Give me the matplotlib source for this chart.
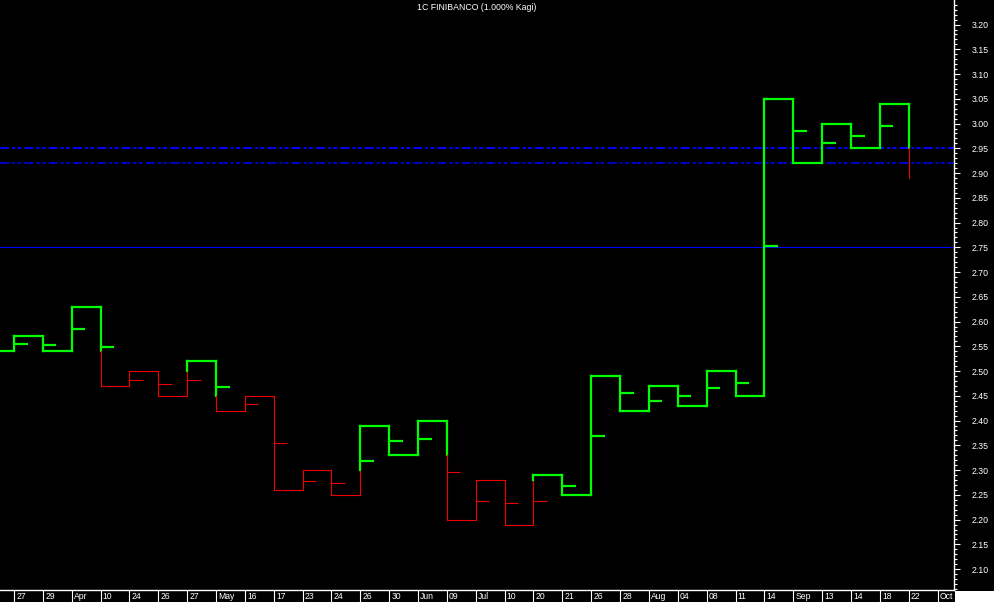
import matplotlib
matplotlib.use("Agg")
import matplotlib.pyplot as plt
from matplotlib.patches import Rectangle
from matplotlib.ticker import MultipleLocator, FormatStrFormatter
import matplotlib.transforms as mtransforms

plt.rcParams['font.family'] = ['Liberation Sans', 'DejaVu Sans']
plt.rcParams['lines.scale_dashes'] = False

title = "1C FINIBANCO (1.000% Kagi)"
x_labels = ["27", "29", "Apr", "10", "24", "26", "27", "May", "16", "17", "23", "24",
            "26", "30", "Jun", "09", "Jul", "10", "20", "21", "26", "28", "Aug", "04",
            "08", "11", "14", "Sep", "13", "14", "18", "22", "Oct"]
start_level = 2.54
levels = [2.57, 2.54, 2.63, 2.47, 2.50, 2.45, 2.52, 2.42, 2.45, 2.26, 2.30, 2.25,
          2.39, 2.33, 2.40, 2.20, 2.28, 2.19, 2.29, 2.25, 2.49, 2.42, 2.47, 2.43,
          2.50, 2.45, 3.05, 2.92, 3.00, 2.95, 3.04, 2.89]
marks = [2.555, 2.553, 2.585, 2.549, 2.483, 2.473, 2.483, 2.468, 2.433, 2.355, 2.278, 2.273,
         2.318, 2.359, 2.363, 2.297, 2.237, 2.233, 2.237, 2.268, 2.369, 2.456, 2.440, 2.450,
         2.465, 2.475, 2.752, 2.985, 2.960, 2.975, 2.996, None]
ref_solid = 2.75
ref_dashed = [2.95, 2.92]

W, H = 994, 602
fig = plt.figure(figsize=(W / 100, H / 100), dpi=100, facecolor='black')
ax_left, ax_right, ax_bottom = 0, 954, 590
ax = fig.add_axes([ax_left / W, (H - ax_bottom) / H, (ax_right - ax_left) / W, ax_bottom / H])
ax.set_facecolor('black')

step = 28.86
ax.set_xlim(-14 / step, (ax_right - 14) / step)
ax.set_ylim(2.0578, 3.2496)

GREEN = '#00ff00'
RED = '#ee0000'
THICK = 1.6
THIN = 0.8


def seg(x0, x1, y0, y1, thick):
    ax.plot([x0, x1], [y0, y1], color=GREEN if thick else RED,
            lw=THICK if thick else THIN, solid_capstyle='projecting', zorder=3)


# initial horizontal
seg(-1, 0, start_level, start_level, True)

state_thick = True
prev_peak = None
prev_trough = None
cur = start_level
for i, lv in enumerate(levels):
    switch = None
    if lv > cur:
        if (not state_thick) and prev_peak is not None and lv > prev_peak:
            switch = prev_peak
        prev_trough = cur if prev_trough is None else prev_trough
        if switch is not None:
            seg(i, i, cur, switch, False)
            seg(i, i, switch, lv, True)
            state_thick = True
        else:
            seg(i, i, cur, lv, state_thick)
        prev_trough = cur
        prev_peak_new = lv
        prev_peak = prev_peak_new
    else:
        if state_thick and prev_trough is not None and lv < prev_trough:
            switch = prev_trough
        if switch is not None:
            seg(i, i, cur, switch, True)
            seg(i, i, switch, lv, False)
            state_thick = False
        else:
            seg(i, i, cur, lv, state_thick)
        prev_peak = cur if prev_peak is None else prev_peak
        prev_peak = cur
        prev_trough = lv
    m = marks[i]
    if m is not None:
        if switch is not None:
            mthick = m > switch
        else:
            mthick = state_thick
        ax.plot([i, i + 0.47], [m, m], color=GREEN if mthick else RED,
                lw=THICK if mthick else THIN, solid_capstyle='butt', zorder=4)
    if i < len(levels) - 1:
        seg(i, i + 1, lv, lv, state_thick)
    cur = lv

# reference lines
ax.axhline(ref_solid, color='#0000ff', lw=0.8, zorder=2)
ax.axhline(ref_dashed[0], color='#0000ff', lw=1.4, zorder=2,
           linestyle=(0, (6.5, 2.2, 2.2, 1.5, 2.9, 2.2)))
ax.axhline(ref_dashed[1], color='#0000ff', lw=1.1, zorder=2,
           linestyle=(0, (6.5, 2.2, 2.2, 1.5, 2.9, 2.2)))

# spines
for s in ['top', 'left']:
    ax.spines[s].set_visible(False)
ax.spines['right'].set_color('white')
ax.spines['bottom'].set_color('white')
ax.spines['right'].set_linewidth(1)
ax.spines['bottom'].set_linewidth(1)

# y axis on right
ax.yaxis.tick_right()
ax.yaxis.set_major_locator(MultipleLocator(0.05))
ax.yaxis.set_minor_locator(MultipleLocator(0.01))
ax.yaxis.set_major_formatter(FormatStrFormatter('%.2f'))
ax.tick_params(axis='y', which='major', colors='white', length=4.3, width=0.8,
               pad=8.5, labelsize=6.3, labelcolor='white')
ax.tick_params(axis='y', which='minor', colors='white', length=2.0, width=0.8)

# x axis: separators and labels
ax.set_xticks(range(len(x_labels)))
ax.set_xticklabels([])
ax.tick_params(axis='x', which='major', colors='white', length=9, width=0.8, direction='out')
ax.tick_params(axis='x', which='minor', length=0)
for i, lab in enumerate(x_labels):
    ax.annotate(lab, xy=(i, 0), xycoords=('data', 'axes fraction'),
                xytext=(1.6, -4.6), textcoords='offset points',
                ha='left', va='center', color='white', fontsize=6.2,
                annotation_clip=False)

ax.text(0.5, 1 - 8 / ax_bottom, title, transform=ax.transAxes, ha='center', va='center',
        color='white', fontsize=6.3)

# white bottom-right corner
fig.add_artist(Rectangle(((ax_right + 0.5) / W, 0), 1, (H - ax_bottom - 0.5) / H,
                         transform=fig.transFigure, facecolor='white', edgecolor='none',
                         zorder=10))

fig.savefig('out.png', dpi=100, facecolor='black')
